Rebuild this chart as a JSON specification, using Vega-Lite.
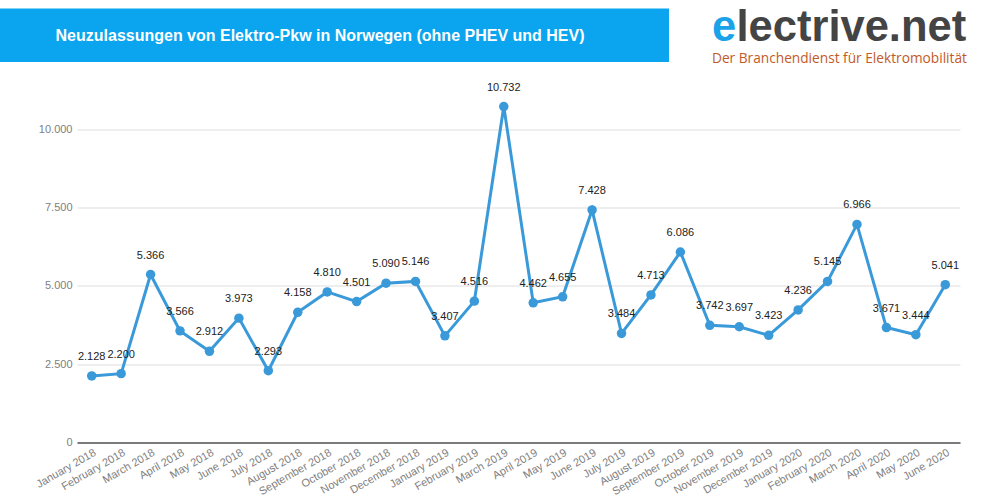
{
  "$schema": "https://vega.github.io/schema/vega-lite/v6.json",
  "width": 883,
  "height": 360,
  "autosize": {"type": "none"},
  "padding": {"left": 77, "top": 82.5, "right": 40, "bottom": 57.5},
  "background": "white",
  "config": {
    "view": {"stroke": null},
    "font": "Liberation Sans",
    "locale": {"number": {"decimal": ",", "thousands": ".", "grouping": [3], "currency": ["", " €"]}}
  },
  "data": {
    "values": [
      {"monat": "January 2018", "anzahl": 2128},
      {"monat": "February 2018", "anzahl": 2200},
      {"monat": "March 2018", "anzahl": 5366},
      {"monat": "April 2018", "anzahl": 3566},
      {"monat": "May 2018", "anzahl": 2912},
      {"monat": "June 2018", "anzahl": 3973},
      {"monat": "July 2018", "anzahl": 2293},
      {"monat": "August 2018", "anzahl": 4158},
      {"monat": "September 2018", "anzahl": 4810},
      {"monat": "October 2018", "anzahl": 4501},
      {"monat": "November 2018", "anzahl": 5090},
      {"monat": "December 2018", "anzahl": 5146},
      {"monat": "January 2019", "anzahl": 3407},
      {"monat": "February 2019", "anzahl": 4516},
      {"monat": "March 2019", "anzahl": 10732},
      {"monat": "April 2019", "anzahl": 4462},
      {"monat": "May 2019", "anzahl": 4655},
      {"monat": "June 2019", "anzahl": 7428},
      {"monat": "July 2019", "anzahl": 3484},
      {"monat": "August 2019", "anzahl": 4713},
      {"monat": "September 2019", "anzahl": 6086},
      {"monat": "October 2019", "anzahl": 3742},
      {"monat": "November 2019", "anzahl": 3697},
      {"monat": "December 2019", "anzahl": 3423},
      {"monat": "January 2020", "anzahl": 4236},
      {"monat": "February 2020", "anzahl": 5145},
      {"monat": "March 2020", "anzahl": 6966},
      {"monat": "April 2020", "anzahl": 3671},
      {"monat": "May 2020", "anzahl": 3444},
      {"monat": "June 2020", "anzahl": 5041}
    ]
  },
  "encoding": {
    "x": {
      "field": "monat", "type": "ordinal", "sort": null,
      "scale": {"type": "point", "padding": 0.5},
      "axis": {
        "title": null, "labelAngle": -30, "labelAlign": "right", "labelBaseline": "top",
        "labelColor": "#808080", "labelFontSize": 11, "labelPadding": 4,
        "ticks": false, "domainColor": "#555", "domainWidth": 1.5, "grid": false
      }
    },
    "y": {
      "field": "anzahl", "type": "quantitative",
      "scale": {"domain": [0, 11500], "nice": false},
      "axis": {
        "title": null, "values": [0, 2500, 5000, 7500, 10000], "format": ",d",
        "labelColor": "#808080", "labelFontSize": 11, "labelPadding": 5,
        "ticks": false, "domain": false, "gridColor": "#ddd"
      }
    }
  },
  "layer": [
    {"mark": {"type": "line", "color": "#3a9ad9", "strokeWidth": 3}},
    {"mark": {"type": "point", "filled": true, "color": "#3a9ad9", "size": 90, "opacity": 1}},
    {
      "mark": {"type": "text", "dy": -14, "baseline": "bottom", "fontSize": 11, "color": "#222"},
      "encoding": {"text": {"field": "anzahl", "type": "quantitative", "format": ",d"}}
    },
    {
      "data": {"values": [{"box": "titel"}]},
      "mark": {"type": "rect", "color": "#0aa5ee", "clip": false},
      "encoding": {"x": {"value": -77}, "x2": {"value": 592}, "y": {"value": -74}, "y2": {"value": -20.5}}
    },
    {
      "data": {"values": [{"t": "Neuzulassungen von Elektro-Pkw in Norwegen (ohne PHEV und HEV)"}]},
      "mark": {"type": "text", "color": "white", "fontSize": 16, "fontWeight": "bold", "align": "center", "baseline": "middle", "font": "Liberation Sans"},
      "encoding": {"text": {"field": "t"}, "x": {"value": 243}, "y": {"value": -46.5}}
    },
    {
      "data": {"values": [{"t": "e"}]},
      "mark": {"type": "text", "color": "#1aa3e8", "fontSize": 43.5, "fontWeight": "bold", "align": "left", "baseline": "alphabetic", "font": "Liberation Sans"},
      "encoding": {"text": {"field": "t"}, "x": {"value": 635}, "y": {"value": -42}}
    },
    {
      "data": {"values": [{"t": "lectrive.net"}]},
      "mark": {"type": "text", "color": "#444", "fontSize": 43.5, "fontWeight": "bold", "align": "left", "baseline": "alphabetic", "font": "Liberation Sans"},
      "encoding": {"text": {"field": "t"}, "x": {"value": 659.5}, "y": {"value": -42}}
    },
    {
      "data": {"values": [{"t": "Der Branchendienst für Elektromobilität"}]},
      "mark": {"type": "text", "color": "#c25a28", "fontSize": 13.7, "align": "left", "baseline": "alphabetic", "font": "Open Sans"},
      "encoding": {"text": {"field": "t"}, "x": {"value": 635}, "y": {"value": -20}}
    }
  ]
}
